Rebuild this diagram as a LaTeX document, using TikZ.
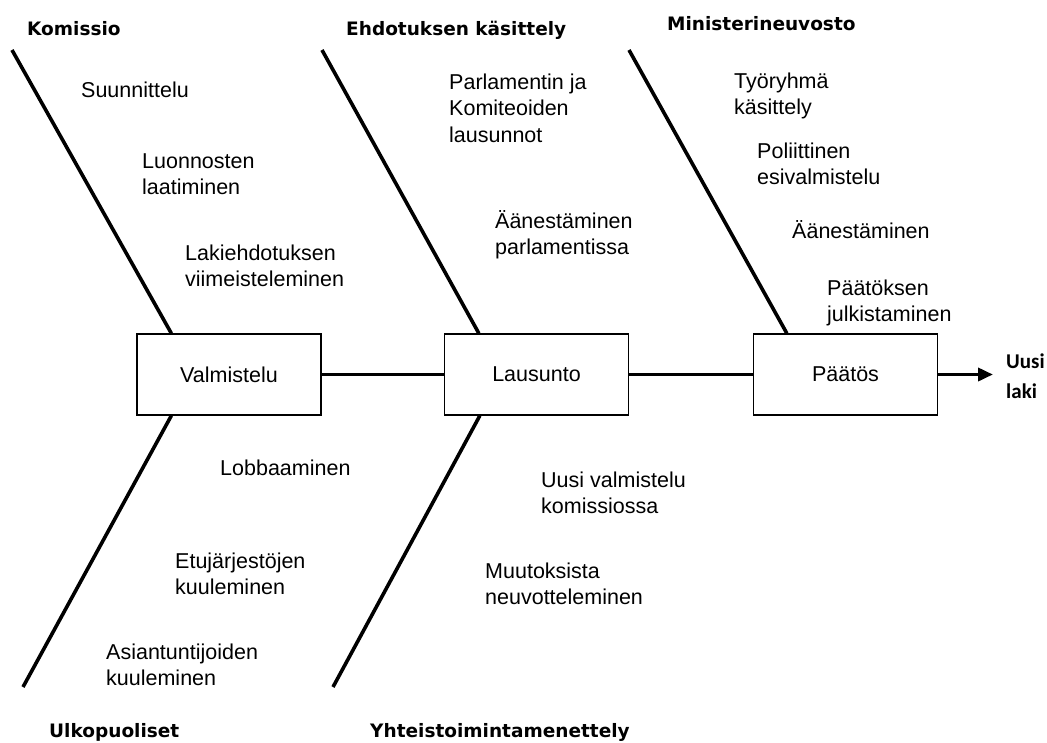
\documentclass[tikz,border=0pt]{standalone}
\usepackage{fontspec}
\setmainfont{Liberation Sans}
\newfontfamily\headfont{DejaVu Sans}
\newfontfamily\resultfont{Carlito}
\usetikzlibrary{arrows.meta,calc}
\begin{document}
\begin{tikzpicture}[x=1pt,y=-1pt,
  bone/.style={line width=3.6pt},
  spine/.style={line width=3.6pt},
  stage/.style={draw, line width=1.3pt, minimum width=184pt, minimum height=81pt,
    inner sep=0pt, font=\fontsize{21.5}{26.5}\selectfont},
  item/.style={anchor=north west, yshift=18.55pt, inner sep=0pt, align=left,
    font=\fontsize{21.5}{26.5}\selectfont},
  head/.style={anchor=base west, inner sep=0pt,
    font=\headfont\bfseries\fontsize{18.5}{22}\selectfont},
  result/.style={anchor=north west, yshift=21pt, inner sep=0pt, align=left,
    font=\resultfont\bfseries\fontsize{21}{30}\selectfont},
]
\useasboundingbox (0,0) rectangle (1047,742);

% process stages on the main spine
\node[stage] (v) at (229,374.5) {Valmistelu};
\node[stage] (l) at (536.5,374.5) {Lausunto};
\node[stage] (p) at (845.5,374.5) {Päätös};

% free ends of the bones and of the spine
\coordinate (t1) at (12,50);
\coordinate (t2) at (322,50);
\coordinate (t3) at (629,50);
\coordinate (b1) at (23,687);
\coordinate (b2) at (333,687);
\coordinate (out) at (993,374.5);

% spine
\draw[spine] (v.east) -- (l.west);
\draw[spine] (l.east) -- (p.west);
\draw[spine,-{Triangle[length=15pt,width=13pt]}] (p.east) -- (out);

% bones
\draw[bone] (t1) -- ($(v.north west)+(35,0)$);
\draw[bone] ($(v.south west)+(35,0)$) -- (b1);
\draw[bone] (t2) -- ($(l.north west)+(35,0)$);
\draw[bone] ($(l.south west)+(36,0)$) -- (b2);
\draw[bone] (t3) -- ($(p.north west)+(34,0)$);

% category headings
\node[head] (hk) at (27,35) {Komissio};
\node[head] (he) at (346,35) {Ehdotuksen käsittely};
\node[head] (hm) at (667,30) {Ministerineuvosto};
\node[head] (hu) at (49,737) {Ulkopuoliset};
\node[head] (hy) at (370,737) {Yhteistoimintamenettely};

% causes
\node[item] (c1) at (81,97) {\strut Suunnittelu};
\node[item] (c2) at (142,168) {\strut Luonnosten\\laatiminen};
\node[item] (c3) at (185,260) {\strut Lakiehdotuksen\\viimeisteleminen};
\node[item] (c4) at (449,89) {\strut Parlamentin ja\\Komiteoiden\\lausunnot};
\node[item] (c5) at (495,228) {\strut Äänestäminen\\parlamentissa};
\node[item] (c6) at (734,88) {\strut Työryhmä\\käsittely};
\node[item] (c7) at (757,158) {\strut Poliittinen\\esivalmistelu};
\node[item] (c8) at (792,238) {\strut Äänestäminen};
\node[item] (c9) at (827,295) {\strut Päätöksen\\julkistaminen};
\node[item] (c10) at (220,475) {\strut Lobbaaminen};
\node[item] (c11) at (175,568) {\strut Etujärjestöjen\\kuuleminen};
\node[item] (c12) at (106,659) {\strut Asiantuntijoiden\\kuuleminen};
\node[item] (c13) at (541,487) {\strut Uusi valmistelu\\komissiossa};
\node[item] (c14) at (485,578) {\strut Muutoksista\\neuvotteleminen};

% outcome
\node[result] (r) at (1006,368) {\strut Uusi\\laki};
\end{tikzpicture}
\end{document}
